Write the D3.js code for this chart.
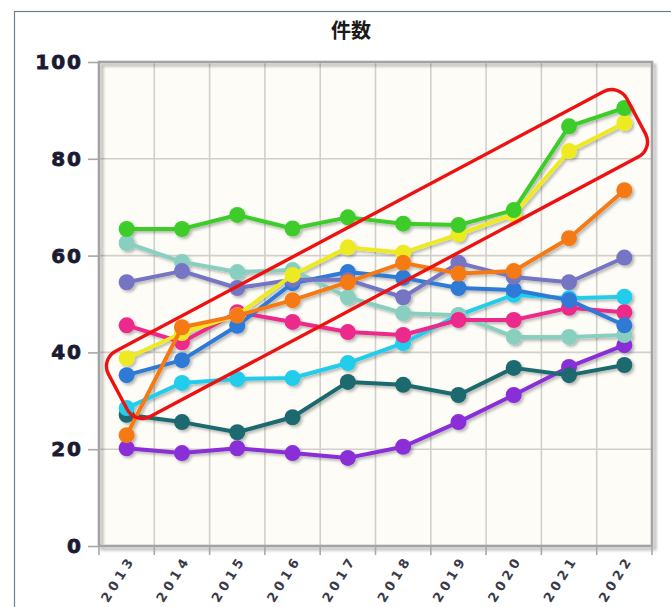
<!DOCTYPE html>
<html><head><meta charset="utf-8">
<script src="https://cdn.jsdelivr.net/npm/d3@7"></script>
<style>
html,body{margin:0;padding:0;background:#fff;}
svg{display:block;}
</style></head>
<body>
<svg id="chart" width="671" height="607"></svg>
<script>
const title = "件数";
const years = ["2013","2014","2015","2016","2017","2018","2019","2020","2021","2022"];
const yTicks = [0,20,40,60,80,100];
const seriesNames = ["violet","darkTeal","cyan","tealLight","pink","blue","purple","yellow","orange","green"];
const seriesColors = ["#8a2fd8","#1e6a70","#22cceb","#88cfc0","#ec2a8c","#2f7ad6","#7474c4","#eeea22","#f57a12","#3ccc2c"];
const violet    = [20.2,19.2,20.2,19.2,18.2,20.5,25.6,31.2,37.0,41.5];
const darkTeal  = [27.1,25.6,23.5,26.6,33.9,33.3,31.2,36.8,35.3,37.4];
const cyan      = [28.5,33.7,34.5,34.7,37.8,41.9,47.7,51.9,51.2,51.5];
const tealLight = [62.6,58.7,56.6,57.0,51.4,48.1,47.7,43.2,43.2,43.6];
const pink      = [45.6,42.1,48.3,46.3,44.2,43.6,46.7,46.7,49.2,48.3];
const blue      = [35.3,38.4,45.5,54.3,56.6,55.4,53.3,52.9,50.8,45.6];
const purple    = [54.5,56.8,53.3,55.0,55.0,51.4,58.5,55.6,54.5,59.6];
const yellow    = [38.8,44.0,47.7,56.0,61.7,60.6,64.4,68.5,81.6,87.4];
const orange    = [22.9,45.2,47.6,50.8,54.5,58.5,56.3,56.8,63.6,73.5];
const green     = [65.5,65.5,68.4,65.6,67.9,66.6,66.3,69.4,86.7,90.5];
const seriesValues = [violet,darkTeal,cyan,tealLight,pink,blue,purple,yellow,orange,green];

const svg = d3.select("#chart");
const L = 99, R = 652, T = 62, B = 546;

const defs = svg.append("defs");
const f = defs.append("filter").attr("id","sh").attr("x","-20%").attr("y","-20%").attr("width","140%").attr("height","140%");
f.append("feDropShadow").attr("dx",2).attr("dy",2).attr("stdDeviation",1.4).attr("flood-color","#000").attr("flood-opacity",0.28);
const f2 = defs.append("filter").attr("id","fsh").attr("x","-5%").attr("y","-5%").attr("width","110%").attr("height","110%");
f2.append("feDropShadow").attr("dx",3).attr("dy",3).attr("stdDeviation",1.5).attr("flood-color","#000").attr("flood-opacity",0.3);

// outer border
svg.append("rect").attr("x",14.5).attr("y",11.5).attr("width",700).attr("height",700)
  .attr("fill","none").attr("stroke","#6d7d92").attr("stroke-width",1.2);

const x = d3.scaleBand().domain(years).range([L,R]);
const y = d3.scaleLinear().domain([0,100]).range([B,T]);

// plot background
svg.append("rect").attr("x",L).attr("y",T).attr("width",R-L).attr("height",B-T)
  .attr("fill","#fdfcf6");

// vertical gridlines
svg.append("g").selectAll("line").data(years.slice(1)).join("line")
  .attr("x1",d=>x(d)).attr("x2",d=>x(d)).attr("y1",T).attr("y2",B)
  .attr("stroke","#d2d0cc").attr("stroke-width",1.6);
// horizontal gridlines
svg.append("g").selectAll("line").data(yTicks.filter(v=>v>0&&v<100)).join("line")
  .attr("x1",L).attr("x2",R).attr("y1",d=>y(d)).attr("y2",d=>y(d))
  .attr("stroke","#d2d0cc").attr("stroke-width",1.6);

// frame
svg.append("rect").attr("x",L).attr("y",T).attr("width",R-L).attr("height",B-T)
  .attr("fill","none").attr("stroke","#a3a3a3").attr("stroke-width",2.6).attr("filter","url(#fsh)");

// y axis
const yAxis = svg.append("g").attr("transform",`translate(${L},0)`)
  .call(d3.axisLeft(y).tickValues(yTicks).tickSize(11).tickPadding(5));
yAxis.select(".domain").remove();
yAxis.selectAll(".tick line").attr("stroke","#a8a8a8").attr("stroke-width",1.6);
yAxis.selectAll(".tick text").attr("fill","#1a1a33").attr("font-family","'DejaVu Sans',Verdana,sans-serif")
  .attr("font-weight","bold").attr("font-size",20).attr("letter-spacing","2px")
  .attr("stroke","#1a1a33").attr("stroke-width",0.8);

// x tick marks at band boundaries
svg.append("g").selectAll("line").data(years.concat(["end"])).join("line")
  .attr("x1",d=>d==="end"?R:x(d)).attr("x2",d=>d==="end"?R:x(d)).attr("y1",B).attr("y2",B+9)
  .attr("stroke","#a8a8a8").attr("stroke-width",1.6);

// x axis labels
const xAxis = svg.append("g").attr("transform",`translate(0,${B})`)
  .call(d3.axisBottom(x).tickSize(0).tickPadding(0));
xAxis.select(".domain").remove();
xAxis.selectAll(".tick text")
  .attr("fill","#3a3a4a").attr("font-family","'DejaVu Sans',Verdana,sans-serif").attr("font-weight","bold")
  .attr("font-size",13).attr("letter-spacing","4px")
  .attr("text-anchor","end").attr("dy","0").attr("y",0)
  .attr("transform","translate(9,13) rotate(-58)");

// title
svg.append("text").attr("x",351).attr("y",38).attr("text-anchor","middle")
  .attr("font-family","'Noto Sans CJK JP',sans-serif").attr("font-weight","bold").attr("font-size",20)
  .attr("fill","#1a1a1a").text(title);

// series
const line = d3.line().x((d,i)=>x(years[i])+x.bandwidth()/2).y(d=>y(d));
const gS = svg.append("g").attr("filter","url(#sh)");
seriesValues.forEach((vals,k)=>{
  const g = gS.append("g").attr("class","series-"+seriesNames[k]);
  g.append("path").datum(vals).attr("d",line).attr("fill","none")
    .attr("stroke",seriesColors[k]).attr("stroke-width",4).attr("stroke-linejoin","round");
  g.selectAll("circle").data(vals).join("circle")
    .attr("cx",(d,i)=>x(years[i])+x.bandwidth()/2).attr("cy",d=>y(d)).attr("r",8)
    .attr("fill",seriesColors[k]);
});

// red annotation
svg.append("rect").attr("x",-293.5).attr("y",-37).attr("width",587).attr("height",74)
  .attr("rx",17).attr("ry",17)
  .attr("transform","translate(377,254) rotate(-28)")
  .attr("fill","none").attr("stroke","#ee1111").attr("stroke-width",3.4);
</script>
</body></html>
